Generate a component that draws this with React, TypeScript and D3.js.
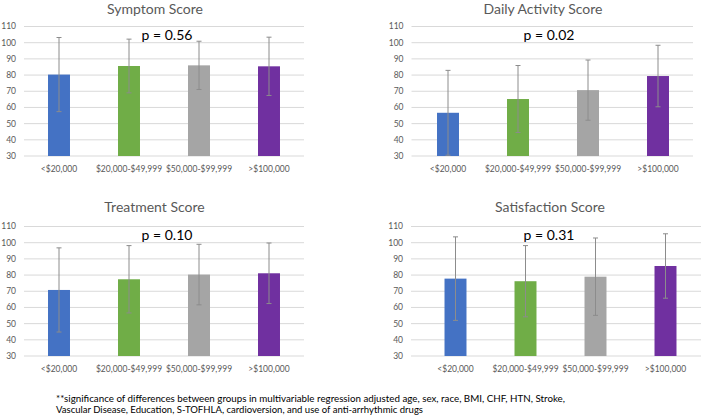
import React from "react";
import * as d3 from "d3";

const categories = ["<$20,000", "$20,000-$49,999", "$50,000-$99,999", ">$100,000"];
const colors = ["#4472C4", "#70AD47", "#A5A5A5", "#7030A0"];
const yTicks = [30, 40, 50, 60, 70, 80, 90, 100, 110];

const symptomMeans = [80.3, 85.6, 86.0, 85.4];
const symptomSD = [22.9, 16.6, 14.9, 18.0];
const dailyMeans = [56.7, 65.2, 70.7, 79.4];
const dailySD = [26.2, 20.7, 18.6, 19.0];
const treatmentMeans = [70.8, 77.4, 80.3, 81.1];
const treatmentSD = [26.0, 20.8, 18.7, 18.7];
const satisfactionMeans = [77.8, 76.2, 79.0, 85.6];
const satisfactionSD = [25.8, 22.0, 23.9, 19.9];

const titles = ["Symptom Score", "Daily Activity Score", "Treatment Score", "Satisfaction Score"];
const pLabels = ["p = 0.56", "p = 0.02", "p = 0.10", "p = 0.31"];
const footnote = [
  "**significance of differences between groups in multivariable regression adjusted age, sex, race, BMI, CHF, HTN, Stroke,",
  "Vascular Disease, Education, S-TOFHLA, cardioversion, and use of anti-arrhythmic drugs",
];

const FONT = "Lato, 'Open Sans', sans-serif";

type PanelLayout = {
  oy: number;
  gx0: number;
  gx1: number;
  bx0: number;
  bx1: number;
  titleX: number;
  titleY: number;
  pX: number;
};

const layouts: PanelLayout[] = [
  { oy: 0, gx0: 24, gx1: 304, bx0: 24, bx1: 304, titleX: 155, titleY: 14, pX: 167 },
  { oy: 0, gx0: 411.5, gx1: 693, bx0: 413, bx1: 693, titleX: 543, titleY: 14, pX: 549 },
  { oy: 200, gx0: 24, gx1: 304, bx0: 24, bx1: 304, titleX: 154.5, titleY: 11.5, pX: 167 },
  { oy: 200, gx0: 411, gx1: 701, bx0: 420.5, bx1: 700.5, titleX: 550, titleY: 11.5, pX: 549 },
];

function Panel({ means, sds, title, pLabel, L }: { means: number[]; sds: number[]; title: string; pLabel: string; L: PanelLayout }) {
  const y = d3.scaleLinear().domain([30, 110]).range([L.oy + 156, L.oy + 26.5]);
  const x = d3
    .scaleBand<string>()
    .domain(categories)
    .range([L.bx0, L.bx1])
    .paddingInner(0.686)
    .paddingOuter(0.343);
  const bw = x.bandwidth();
  return (
    <g>
      <text x={L.titleX} y={L.oy + L.titleY} textAnchor="middle" fontSize={14} fill="#595959" fontFamily={FONT}>
        {title}
      </text>
      {yTicks.map((t) => (
        <g key={t}>
          <line x1={L.gx0} x2={L.gx1} y1={y(t)} y2={y(t)} stroke="#D9D9D9" strokeWidth={1} />
          <text x={L.gx0 - 8} y={y(t)} dy="0.35em" textAnchor="end" fontSize={8.5} fill="#595959" fontFamily={FONT}>
            {t}
          </text>
        </g>
      ))}
      {categories.map((c, i) => {
        const cx = (x(c) as number) + bw / 2;
        const top = Math.min(110, means[i] + sds[i]);
        const bot = Math.max(30, means[i] - sds[i]);
        return (
          <g key={c}>
            <rect x={x(c)} y={y(means[i])} width={bw} height={y(30) - y(means[i])} fill={colors[i]} />
            <line x1={cx} x2={cx} y1={y(top)} y2={y(bot)} stroke="#8C8C8C" strokeWidth={1} />
            <line x1={cx - 2.5} x2={cx + 2.5} y1={y(top)} y2={y(top)} stroke="#8C8C8C" strokeWidth={1} />
            <line x1={cx - 2.5} x2={cx + 2.5} y1={y(bot)} y2={y(bot)} stroke="#8C8C8C" strokeWidth={1} />
            <text x={cx} y={L.oy + 172} textAnchor="middle" fontSize={8.5} fill="#595959" fontFamily={FONT}>
              {c}
            </text>
          </g>
        );
      })}
      <text x={L.pX} y={L.oy + 39.5} textAnchor="middle" fontSize={14} fill="#000" fontFamily={FONT}>
        {pLabel}
      </text>
    </g>
  );
}

export default function App() {
  const allMeans = [symptomMeans, dailyMeans, treatmentMeans, satisfactionMeans];
  const allSD = [symptomSD, dailySD, treatmentSD, satisfactionSD];
  return (
    <svg width={701} height={416} style={{ position: "absolute", left: 0, top: 0, background: "#fff" }}>
      <rect x={0} y={0} width={701} height={416} fill="#fff" />
      {allMeans.map((m, i) => (
        <Panel key={i} means={m} sds={allSD[i]} title={titles[i]} pLabel={pLabels[i]} L={layouts[i]} />
      ))}
      <text x={56} y={402} fontSize={9} fill="#000" fontFamily={FONT} textLength={509} lengthAdjust="spacingAndGlyphs">
        {footnote[0]}
      </text>
      <text x={56} y={412.5} fontSize={9} fill="#000" fontFamily={FONT} textLength={367} lengthAdjust="spacingAndGlyphs">
        {footnote[1]}
      </text>
    </svg>
  );
}
